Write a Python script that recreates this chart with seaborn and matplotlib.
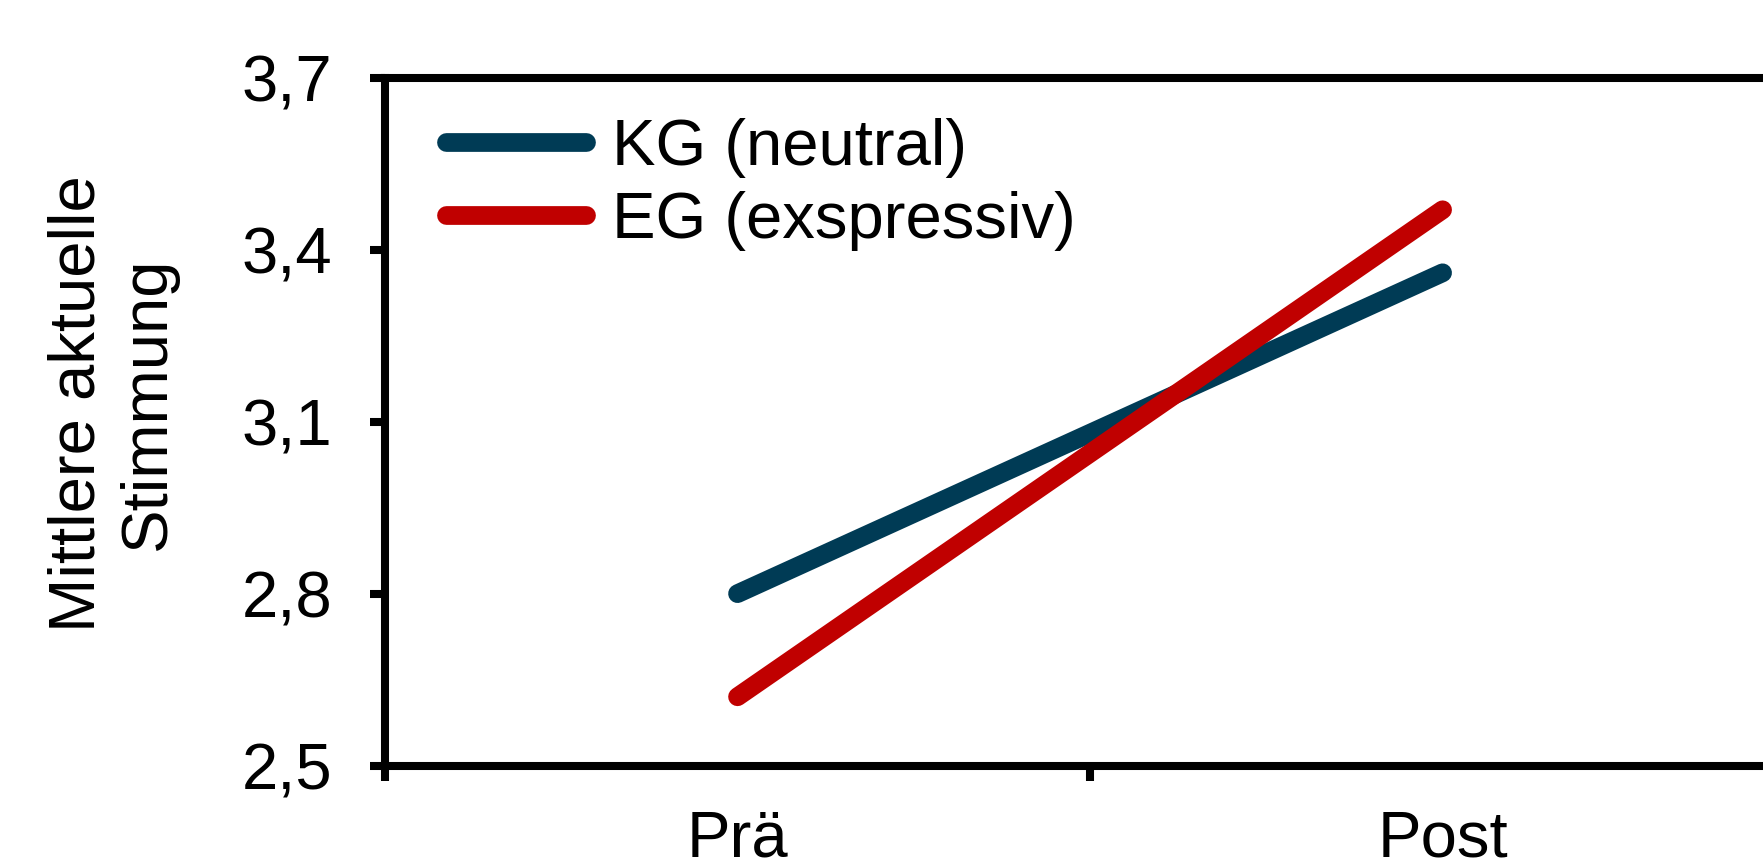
import numpy as np
import pandas as pd
import matplotlib
matplotlib.use("Agg")
import matplotlib.pyplot as plt
from matplotlib.lines import Line2D
import seaborn as sns

# Mean current mood before and after writing, per group
phases = ["Prä", "Post"]
kg_values = [2.80, 3.36]   # KG (neutral)
eg_values = [2.62, 3.47]   # EG (exspressiv)
groups = ["KG (neutral)", "EG (exspressiv)"]
y_ticks = [2.5, 2.8, 3.1, 3.4, 3.7]
y_label = "Mittlere aktuelle\nStimmung"

colors = {"KG (neutral)": "#003B55", "EG (exspressiv)": "#C00000"}

sns.set_theme(style="white")
plt.rcParams["font.family"] = ["Liberation Sans", "DejaVu Sans"]
plt.rcParams["text.color"] = "black"
plt.rcParams["xtick.color"] = "black"
plt.rcParams["ytick.color"] = "black"
plt.rcParams["axes.labelcolor"] = "black"

FS = 47
LW = 13.5

df = pd.DataFrame({
    "Gruppe": np.repeat(groups, len(phases)),
    "Zeitpunkt": pd.Categorical(phases * len(groups), categories=phases),
    "Stimmung": kg_values + eg_values,
})
df["pos"] = df["Zeitpunkt"].cat.codes.astype(float)

fig = plt.figure(figsize=(17.63, 8.64), dpi=100)
ax = fig.add_axes([0.2184, 0.114, 0.7998, 0.7957])

sns.lineplot(data=df, x="pos", y="Stimmung", hue="Gruppe", palette=colors,
             hue_order=groups, linewidth=LW, legend=False, ax=ax,
             solid_capstyle="round")

ax.set_xlim(-0.5, len(phases) - 0.5)
ax.set_ylim(y_ticks[0], y_ticks[-1])

# Unlabelled major ticks between the phases, labels centred on each phase
ax.set_xticks(np.arange(len(phases) + 1) - 0.5)
ax.set_xticklabels([])
ax.set_xticks(np.arange(len(phases)), minor=True)
ax.set_xticklabels(phases, minor=True, fontsize=FS)
ax.tick_params(axis="x", which="minor", length=0, pad=32)
ax.tick_params(axis="x", which="major", direction="out", length=10.8,
               width=5.8, color="black", bottom=True)

ax.set_yticks(y_ticks)
ax.set_yticklabels([f"{v:.1f}".replace(".", ",") for v in y_ticks], fontsize=FS)
ax.tick_params(axis="y", direction="out", length=10.8, width=5.8,
               color="black", left=True, pad=27)

for side in ["left", "right", "top", "bottom"]:
    ax.spines[side].set_visible(True)
    ax.spines[side].set_linewidth(5.8)
    ax.spines[side].set_color("black")

ax.set_xlabel("")
ax.set_ylabel(y_label, fontsize=FS, linespacing=1.22)
ax.yaxis.set_label_coords(-0.147, 0.527)

handles = [Line2D([0], [0], color=colors[g], lw=LW, solid_capstyle="round")
           for g in groups]
ax.legend(handles, groups, loc="upper left", frameon=False, fontsize=FS,
          bbox_to_anchor=(446 / 1763, 1 - 118 / 864),
          bbox_transform=fig.transFigure, borderpad=0, borderaxespad=0,
          handlelength=2.15, handletextpad=0.4, labelspacing=0.2)

fig.savefig("out.png", dpi=100)
